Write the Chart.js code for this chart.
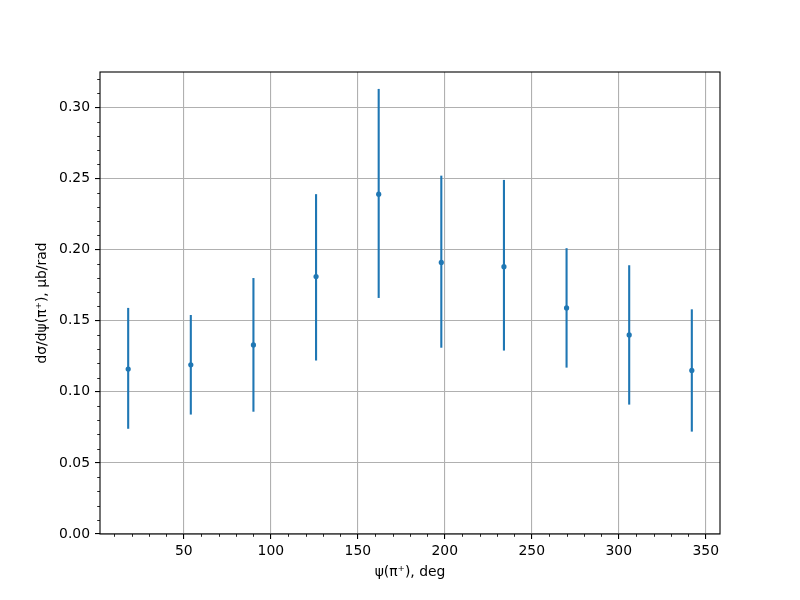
<!DOCTYPE html>
<html>
<head>
<meta charset="utf-8">
<script src="https://cdn.jsdelivr.net/npm/chart.js@4.4.0/dist/chart.umd.min.js"></script>
<style>
    body { margin: 0; background: #fff; }
</style>
</head>
<body>
<canvas id="chart" width="800" height="600"></canvas>
<script>
// angle psi(pi+) in degrees and measured cross section, mub/rad
const angles = [18, 54, 90, 126, 162, 198, 234, 270, 306, 342];
const xsec   = [0.116, 0.119, 0.133, 0.181, 0.239, 0.191, 0.188, 0.159, 0.140, 0.115];
const errLow  = [0.074, 0.084, 0.086, 0.122, 0.166, 0.131, 0.129, 0.117, 0.091, 0.072];
const errHigh = [0.159, 0.154, 0.180, 0.239, 0.313, 0.252, 0.249, 0.201, 0.189, 0.158];

const xTicks = [50, 100, 150, 200, 250, 300, 350];
const yTicks = [0, 0.05, 0.10, 0.15, 0.20, 0.25, 0.30];
const xMinor = [10, 20, 30, 40, 60, 70, 80, 90, 110, 120, 130, 140, 160, 170, 180, 190,
                210, 220, 230, 240, 260, 270, 280, 290, 310, 320, 330, 340];
const yMinor = [0.01, 0.02, 0.03, 0.04, 0.06, 0.07, 0.08, 0.09, 0.11, 0.12, 0.13, 0.14,
                0.16, 0.17, 0.18, 0.19, 0.21, 0.22, 0.23, 0.24, 0.26, 0.27, 0.28, 0.29,
                0.31, 0.32];

const blue = '#1f77b4';
const font = { family: 'DejaVu Sans', size: 13.9 };

// vertical error bars, drawn under the markers
const errorBars = {
    id: 'errorBars',
    beforeDatasetsDraw(chart) {
        const ctx = chart.ctx;
        const x = chart.scales.x, y = chart.scales.y;
        ctx.save();
        ctx.strokeStyle = blue;
        ctx.lineWidth = 2.1;
        for (let i = 0; i < angles.length; i++) {
            const px = x.getPixelForValue(angles[i]);
            ctx.beginPath();
            ctx.moveTo(px, y.getPixelForValue(errLow[i]));
            ctx.lineTo(px, y.getPixelForValue(errHigh[i]));
            ctx.stroke();
        }
        ctx.restore();
    }
};

// minor ticks + the four spines
const frame = {
    id: 'frame',
    afterDraw(chart) {
        const ctx = chart.ctx;
        const a = chart.chartArea;
        const x = chart.scales.x, y = chart.scales.y;
        ctx.save();
        ctx.strokeStyle = '#000';
        ctx.lineWidth = 0.85;
        ctx.beginPath();
        xMinor.forEach(v => {
            const px = Math.round(x.getPixelForValue(v)) + 0.5;
            ctx.moveTo(px, a.bottom);
            ctx.lineTo(px, a.bottom + 2.8);
        });
        yMinor.forEach(v => {
            const py = Math.round(y.getPixelForValue(v)) + 0.5;
            ctx.moveTo(a.left, py);
            ctx.lineTo(a.left - 2.8, py);
        });
        ctx.stroke();
        ctx.lineWidth = 1.1;
        ctx.strokeRect(a.left, a.top, a.right - a.left, a.bottom - a.top);
        ctx.restore();
    }
};

const ctx = document.getElementById('chart').getContext('2d');
new Chart(ctx, {
    type: 'scatter',
    data: {
        datasets: [{
            data: angles.map((a, i) => ({ x: a, y: xsec[i] })),
            backgroundColor: blue,
            borderColor: blue,
            borderWidth: 0,
            pointRadius: 2.6,
            showLine: false
        }]
    },
    options: {
        responsive: false,
        animation: false,
        layout: { padding: { left: 30, right: 80, top: 72, bottom: 15 } },
        plugins: {
            legend: { display: false },
            tooltip: { enabled: false }
        },
        scales: {
            x: {
                type: 'linear',
                min: 1.8,
                max: 358.2,
                afterBuildTicks: scale => { scale.ticks = xTicks.map(v => ({ value: v })); },
                afterFit: scale => { scale.height = 51; },
                border: { display: false },
                grid: { color: '#b0b0b0', lineWidth: 1.1, tickLength: 5, tickColor: '#000', tickWidth: 1.1 },
                ticks: { color: '#000', font: font, padding: 4, maxRotation: 0, callback: v => String(v) },
                title: { display: true, text: 'ψ(π⁺), deg', color: '#000', font: font, padding: { top: 4, bottom: 4 } }
            },
            y: {
                min: 0,
                max: 0.3249,
                afterBuildTicks: scale => { scale.ticks = yTicks.map(v => ({ value: v })); },
                afterFit: scale => { scale.width = 70; },
                border: { display: false },
                grid: { color: '#b0b0b0', lineWidth: 1.1, tickLength: 5, tickColor: '#000', tickWidth: 1.1 },
                ticks: { color: '#000', font: font, padding: 5, callback: v => v.toFixed(2) },
                title: { display: true, text: 'dσ/dψ(π⁺), μb/rad', color: '#000', font: font, padding: { top: 4, bottom: 4 } }
            }
        }
    },
    plugins: [errorBars, frame]
});
</script>
</body>
</html>
